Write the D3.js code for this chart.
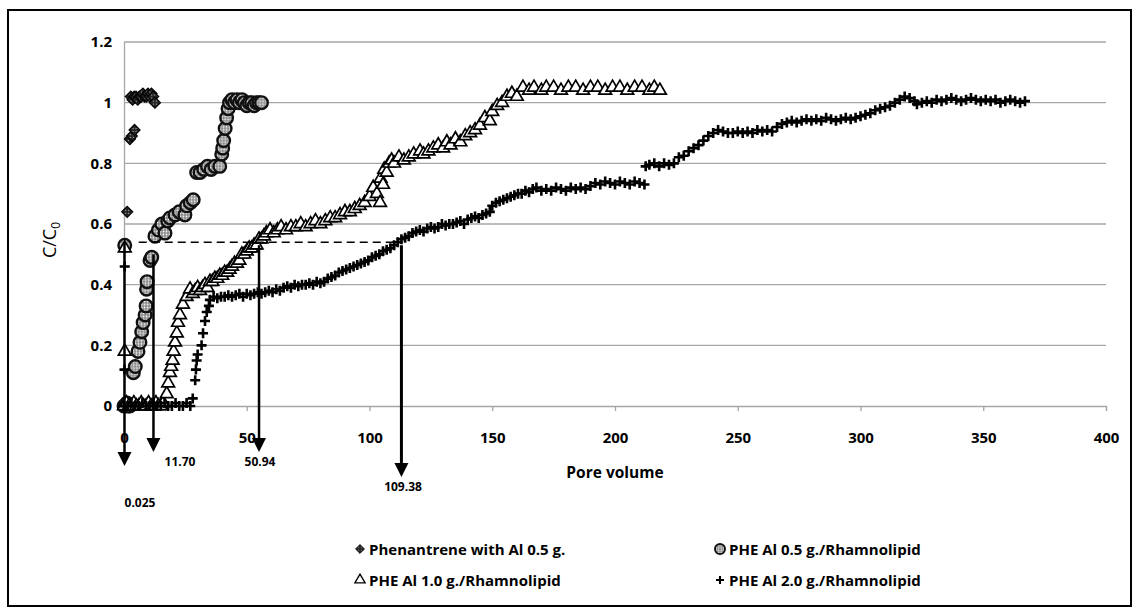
<!DOCTYPE html>
<html>
<head>
<meta charset="utf-8">
<script src="https://cdn.jsdelivr.net/npm/d3@7"></script>
<style>
  body { margin: 0; background: #fff; }
  svg text { font-family: "Open Sans", "Liberation Sans", sans-serif; }
</style>
</head>
<body>
<div id="chart"></div>
<script>
// Breakthrough curves, C/C0 vs pore volume
const xTicks = [0, 50, 100, 150, 200, 250, 300, 350, 400];
const yTicks = [0, 0.2, 0.4, 0.6, 0.8, 1, 1.2];

const phenAl05 = [
  [0.2, 0.0], [0.8, 0.0], [1.3, 0.64], [2.4, 0.88], [3.2, 0.89], [4.3, 0.91],
  [2.8, 1.02], [3.5, 1.01], [4.2, 1.02], [4.9, 1.02], [5.6, 1.01], [6.3, 1.02],
  [7.0, 1.02], [7.7, 1.03], [8.4, 1.02], [9.1, 1.02], [9.8, 1.03], [10.5, 1.02],
  [11.2, 1.03], [11.9, 1.02], [12.6, 1.0]
];

const pheAl05Rham = [
  [0.0, 0.0], [0.6, 0.0], [1.2, 0.01], [1.8, 0.0], [2.4, 0.0], [0.3, 0.53],
  [3.8, 0.11], [4.6, 0.13], [5.7, 0.18], [6.5, 0.21], [7.2, 0.245], [7.8, 0.275],
  [8.6, 0.3], [9.0, 0.33], [9.2, 0.385], [9.4, 0.41], [10.6, 0.48], [11.3, 0.49],
  [12.6, 0.56], [14.0, 0.58], [15.4, 0.6], [16.7, 0.57], [17.8, 0.61], [18.7, 0.62],
  [20.8, 0.63], [22.5, 0.64], [24.8, 0.63], [25.5, 0.66], [27.0, 0.67], [28.2, 0.68],
  [29.6, 0.77], [31.0, 0.77], [32.5, 0.78], [34.0, 0.79], [35.5, 0.78], [37.0, 0.79],
  [39.0, 0.79], [39.8, 0.83], [40.2, 0.85], [40.6, 0.875], [41.2, 0.915], [41.8, 0.95],
  [42.4, 0.98], [43.0, 1.0], [44.0, 1.01], [45.0, 1.0], [46.0, 1.01], [47.0, 1.0],
  [48.0, 1.01], [49.0, 1.0], [50.0, 0.99], [51.0, 1.0], [52.0, 1.0], [53.0, 0.99],
  [54.0, 1.0], [55.0, 1.0], [56.0, 1.0]
];

const pheAl10Rham = [
  [0.0, 0.0], [1.0, 0.01], [2.0, 0.0], [3.0, 0.0], [4.0, 0.01], [5.0, 0.0], [6.0, 0.0],
  [7.0, 0.01], [8.0, 0.0], [9.0, 0.0], [10.0, 0.01], [11.0, 0.0], [12.0, 0.0],
  [13.0, 0.01], [14.0, 0.0], [15.0, 0.0], [16.0, 0.01], [0.3, 0.18], [0.3, 0.52],
  [17.4, 0.04], [18.0, 0.075], [18.7, 0.11], [19.2, 0.13], [19.8, 0.15], [20.2, 0.18],
  [20.8, 0.21], [21.5, 0.24], [22.0, 0.275], [22.8, 0.3], [24.0, 0.335], [25.5, 0.36],
  [26.9, 0.385], [28.0, 0.37], [29.0, 0.38], [30.0, 0.39], [31.0, 0.38], [32.0, 0.39],
  [33.0, 0.4], [34.0, 0.39], [35.0, 0.41], [36.0, 0.41], [37.0, 0.42], [38.0, 0.42],
  [39.0, 0.43], [40.0, 0.43], [41.0, 0.44], [42.0, 0.44], [43.0, 0.45], [44.0, 0.46],
  [45.0, 0.47], [46.0, 0.47], [47.0, 0.48], [48.0, 0.5], [49.0, 0.5], [50.0, 0.51],
  [51.0, 0.52], [52.0, 0.52], [53.0, 0.53], [54.0, 0.53], [55.0, 0.55], [56.0, 0.55],
  [57.0, 0.56], [58.0, 0.57], [59.5, 0.58], [61.0, 0.57], [62.5, 0.58], [64.0, 0.59],
  [66.0, 0.58], [68.0, 0.59], [70.0, 0.59], [72.0, 0.6], [74.0, 0.59], [76.0, 0.6],
  [78.0, 0.61], [80.0, 0.6], [82.0, 0.61], [84.0, 0.62], [86.0, 0.62], [88.0, 0.63],
  [90.0, 0.64], [92.0, 0.64], [94.0, 0.65], [96.0, 0.66], [98.0, 0.67], [100.0, 0.69],
  [101.5, 0.72], [103.0, 0.7], [104.3, 0.67], [104.5, 0.75], [105.5, 0.73], [106.0, 0.78],
  [107.0, 0.77], [108.0, 0.8], [109.0, 0.81], [110.0, 0.8], [112.0, 0.82], [114.0, 0.81],
  [116.0, 0.82], [118.0, 0.83], [120.6, 0.84], [122.0, 0.83], [124.0, 0.84], [126.0, 0.85],
  [128.0, 0.86], [130.0, 0.85], [131.5, 0.87], [133.0, 0.86], [135.0, 0.88], [137.0, 0.87],
  [139.0, 0.89], [141.0, 0.9], [143.0, 0.91], [145.0, 0.925], [147.0, 0.95], [149.0, 0.94],
  [150.0, 0.97], [152.0, 0.99], [154.0, 1.0], [156.0, 1.02], [158.0, 1.03], [160.0, 1.02],
  [162.5, 1.05], [165.0, 1.04], [167.0, 1.05], [170.0, 1.04], [172.0, 1.05], [175.0, 1.05],
  [178.0, 1.04], [181.0, 1.05], [184.0, 1.05], [187.0, 1.04], [190.0, 1.05], [193.0, 1.05],
  [196.0, 1.04], [199.0, 1.05], [202.0, 1.05], [205.0, 1.04], [208.0, 1.05], [211.0, 1.05],
  [214.0, 1.04], [216.0, 1.05], [218.3, 1.04]
];

const pheAl20Rham = [
  [0.0, 0.0], [1.5, 0.0], [3.0, 0.01], [4.5, 0.0], [6.0, 0.0], [7.5, 0.01], [9.0, 0.0],
  [10.5, 0.0], [12.0, 0.01], [13.5, 0.0], [15.0, 0.0], [16.5, 0.01], [18.0, 0.0],
  [19.5, 0.0], [21.0, 0.01], [22.5, 0.0], [24.0, 0.0], [25.5, 0.01], [27.0, 0.0],
  [0.2, 0.12], [0.3, 0.46],
  [28.0, 0.025], [29.0, 0.085], [29.3, 0.12], [29.6, 0.15], [30.0, 0.17], [31.6, 0.2],
  [32.2, 0.24], [33.0, 0.28], [33.7, 0.31], [34.6, 0.33], [35.0, 0.35], [36.5, 0.36],
  [38.0, 0.355], [39.5, 0.36], [41.0, 0.36], [42.5, 0.365], [44.0, 0.36], [45.5, 0.365],
  [47.0, 0.37], [48.5, 0.36], [50.0, 0.37], [51.5, 0.365], [53.0, 0.37], [54.5, 0.375],
  [56.0, 0.37], [57.5, 0.375], [59.0, 0.38], [60.5, 0.375], [62.0, 0.385], [63.5, 0.38],
  [65.0, 0.39], [66.5, 0.395], [68.0, 0.39], [69.5, 0.4], [71.0, 0.395], [72.5, 0.4],
  [74.0, 0.4], [75.5, 0.405], [77.0, 0.4], [78.5, 0.41], [80.0, 0.405], [81.5, 0.41],
  [83.0, 0.42], [84.5, 0.425], [86.0, 0.43], [87.5, 0.44], [89.0, 0.445], [90.5, 0.45],
  [92.0, 0.455], [93.5, 0.46], [95.0, 0.465], [96.5, 0.47], [98.0, 0.475], [99.5, 0.48],
  [101.0, 0.49], [102.5, 0.495], [104.0, 0.5], [105.5, 0.51], [107.0, 0.515], [108.5, 0.52],
  [110.0, 0.53], [111.5, 0.54], [113.0, 0.55], [114.5, 0.555], [116.0, 0.56], [117.5, 0.57],
  [119.0, 0.575], [120.5, 0.58], [122.0, 0.575], [123.5, 0.585], [125.0, 0.59], [126.5, 0.585],
  [128.0, 0.59], [129.5, 0.6], [131.0, 0.595], [132.5, 0.6], [134.0, 0.6], [135.5, 0.605],
  [137.0, 0.61], [138.5, 0.6], [140.0, 0.615], [141.5, 0.62], [143.0, 0.625], [144.5, 0.62],
  [146.0, 0.63], [147.5, 0.635], [149.0, 0.64], [150.0, 0.66], [151.5, 0.67], [153.0, 0.675],
  [154.5, 0.68], [156.0, 0.685], [157.5, 0.69], [159.0, 0.695], [160.5, 0.7], [162.0, 0.7],
  [163.5, 0.71], [165.0, 0.705], [166.5, 0.715], [168.0, 0.72], [170.0, 0.71], [172.0, 0.715],
  [174.0, 0.71], [176.0, 0.72], [178.0, 0.715], [180.0, 0.71], [182.0, 0.72], [184.0, 0.715],
  [186.0, 0.72], [188.0, 0.715], [190.0, 0.725], [192.0, 0.735], [194.0, 0.73], [196.0, 0.74],
  [198.0, 0.735], [200.0, 0.73], [202.0, 0.74], [204.0, 0.735], [206.0, 0.73], [208.0, 0.74],
  [210.0, 0.735], [212.0, 0.73], [212.5, 0.79], [214.0, 0.795], [216.0, 0.8], [218.0, 0.79],
  [220.0, 0.8], [222.0, 0.795], [224.0, 0.8], [226.0, 0.82], [228.0, 0.825], [230.0, 0.84],
  [232.0, 0.85], [234.0, 0.86], [236.0, 0.875], [238.0, 0.89], [240.0, 0.9], [242.0, 0.91],
  [244.0, 0.905], [246.0, 0.9], [248.0, 0.9], [250.0, 0.905], [252.0, 0.9], [254.0, 0.905],
  [256.0, 0.9], [258.0, 0.91], [260.0, 0.905], [262.0, 0.91], [264.0, 0.905], [266.0, 0.92],
  [268.0, 0.93], [270.0, 0.935], [272.0, 0.94], [274.0, 0.935], [276.0, 0.94], [278.0, 0.945],
  [280.0, 0.94], [282.0, 0.945], [284.0, 0.94], [286.0, 0.95], [288.0, 0.945], [290.0, 0.94],
  [292.0, 0.945], [294.0, 0.95], [296.0, 0.945], [298.0, 0.95], [300.0, 0.955], [302.0, 0.96],
  [304.0, 0.965], [306.0, 0.975], [308.0, 0.98], [310.0, 0.985], [312.0, 0.99], [314.0, 1.0],
  [316.0, 1.01], [318.0, 1.02], [320.0, 1.015], [322.0, 1.005], [323.0, 0.995], [325.0, 1.0],
  [327.0, 1.005], [329.0, 1.0], [331.0, 1.01], [333.0, 1.005], [335.0, 1.01], [337.0, 1.015],
  [339.0, 1.01], [341.0, 1.005], [343.0, 1.01], [345.0, 1.015], [347.0, 1.01], [349.0, 1.005],
  [351.0, 1.01], [353.0, 1.005], [355.0, 1.01], [357.0, 1.0], [359.0, 1.005], [361.0, 1.01],
  [363.0, 1.005], [365.0, 1.0], [367.0, 1.005]
];

const seriesNames = [
  'Phenantrene with Al 0.5 g.',
  'PHE Al 0.5 g./Rhamnolipid',
  'PHE Al 1.0 g./Rhamnolipid',
  'PHE Al 2.0 g./Rhamnolipid'
];

// hand drawn arrows: x where drawn, level they start from, label
const arrowX = [0.2, 12.0, 55.0, 113.0];
const arrowTop = [0.54, 0.5, 0.53, 0.53];
const arrowLabels = ['0.025', '11.70', '50.94', '109.38'];
const dashLevel = 0.54;
const dashFrom = 6.0;

const width = 1139, height = 613;
const svg = d3.select('#chart').append('svg')
  .attr('width', width).attr('height', height);

const defs = svg.append('defs');
const dp = defs.append('pattern').attr('id', 'cdots')
  .attr('width', 3).attr('height', 3).attr('patternUnits', 'userSpaceOnUse');
dp.append('rect').attr('width', 3).attr('height', 3).attr('fill', '#888');
dp.append('circle').attr('cx', 1.5).attr('cy', 1.5).attr('r', 0.9).attr('fill', '#fff');
const dd = defs.append('pattern').attr('id', 'ddots')
  .attr('width', 3).attr('height', 3).attr('patternUnits', 'userSpaceOnUse');
dd.append('rect').attr('width', 3).attr('height', 3).attr('fill', '#222');
dd.append('circle').attr('cx', 1.5).attr('cy', 1.5).attr('r', 0.7).attr('fill', '#aaa');

// outer frame
svg.append('rect')
  .attr('x', 8).attr('y', 10).attr('width', 1123).attr('height', 596)
  .attr('fill', 'none').attr('stroke', '#000').attr('stroke-width', 2);

const x = d3.scaleLinear().domain([0, 400]).range([124, 1106]);
const y = d3.scaleLinear().domain([0, 1.2]).range([406, 42]);

// gridlines
svg.append('g').selectAll('line')
  .data(yTicks.filter(d => d > 0))
  .enter().append('line')
  .attr('x1', x(0)).attr('x2', x(400))
  .attr('y1', d => y(d)).attr('y2', d => y(d))
  .attr('stroke', '#a6a6a6').attr('stroke-width', 1.3);

// axes
const xAxis = svg.append('g').attr('transform', `translate(0,${y(0)})`)
  .call(d3.axisBottom(x).tickValues(xTicks).tickSize(5).tickFormat(d3.format('d')));
xAxis.select('.domain').attr('stroke', '#a6a6a6').attr('stroke-width', 1.3);
xAxis.selectAll('.tick line').attr('stroke', '#a6a6a6').attr('stroke-width', 1.3);
xAxis.selectAll('.tick text')
  .attr('dy', 0).attr('y', 37)
  .attr('font-size', 15).attr('font-weight', 'bold').attr('fill', '#000')
  .attr('font-family', '"Open Sans", sans-serif');

const yAxis = svg.append('g').attr('transform', `translate(${x(0)},0)`)
  .call(d3.axisLeft(y).tickValues(yTicks).tickSize(0).tickPadding(12)
    .tickFormat(d => d === 0 || d === 1 ? String(d) : d.toFixed(1)));
yAxis.select('.domain').attr('stroke', '#a6a6a6').attr('stroke-width', 1.3);
yAxis.selectAll('.tick text')
  .attr('font-size', 15).attr('font-weight', 'bold').attr('fill', '#000')
  .attr('font-family', '"Open Sans", sans-serif');

// axis titles
svg.append('text')
  .attr('x', 615).attr('y', 478)
  .attr('text-anchor', 'middle')
  .attr('font-size', 15.5).attr('font-weight', 'bold')
  .text('Pore volume');

const yTitle = svg.append('text')
  .attr('transform', 'translate(56,240) rotate(-90)')
  .attr('text-anchor', 'middle')
  .attr('font-size', 18);
yTitle.append('tspan').text('C/C');
yTitle.append('tspan').attr('font-size', 12).attr('dy', 4).text('0');

// marker drawing
const diamondPath = 'M0,-5.5L5.5,0L0,5.5L-5.5,0Z';
const trianglePath = d3.symbol().type(d3.symbolTriangle).size(70)();
const plusPath = 'M-5,0H5M0,-5V5';

function drawMarker(g, kind) {
  if (kind === 0) {
    g.append('path').attr('d', diamondPath)
      .attr('fill', 'url(#ddots)').attr('stroke', '#000').attr('stroke-width', 1.2);
  } else if (kind === 1) {
    g.append('circle').attr('r', 6.3)
      .attr('fill', 'url(#cdots)').attr('stroke', '#111').attr('stroke-width', 2.4);
  } else if (kind === 2) {
    g.append('path').attr('d', trianglePath)
      .attr('fill', '#fff').attr('stroke', '#000').attr('stroke-width', 1.7);
  } else {
    g.append('path').attr('d', plusPath)
      .attr('fill', 'none').attr('stroke', '#000').attr('stroke-width', 2.6);
  }
}

const allSeries = [phenAl05, pheAl05Rham, pheAl10Rham, pheAl20Rham];
allSeries.forEach((data, k) => {
  svg.append('g').selectAll('g')
    .data(data)
    .enter().append('g')
    .attr('transform', d => `translate(${x(d[0])},${y(d[1])})`)
    .each(function () { drawMarker(d3.select(this), k); });
});

// dashed guide
svg.append('line')
  .attr('x1', x(dashFrom)).attr('x2', x(arrowX[3]))
  .attr('y1', y(dashLevel)).attr('y2', y(dashLevel))
  .attr('stroke', '#000').attr('stroke-width', 1.6)
  .attr('stroke-dasharray', '8,5');

// arrows
const arrowTips = [466, 452, 452, 477];
const labelPos = [[140, 507], [180, 466], [260, 466], [403, 491]];
arrowX.forEach((v, i) => {
  const ax = x(v);
  const tip = arrowTips[i];
  svg.append('line')
    .attr('x1', ax).attr('x2', ax)
    .attr('y1', y(arrowTop[i])).attr('y2', tip - 12)
    .attr('stroke', '#000').attr('stroke-width', i === 3 ? 3 : 2.5);
  svg.append('path')
    .attr('d', `M${ax - 7},${tip - 14}L${ax + 7},${tip - 14}L${ax},${tip}Z`)
    .attr('fill', '#000');
  svg.append('text')
    .attr('x', labelPos[i][0]).attr('y', labelPos[i][1])
    .attr('text-anchor', 'middle')
    .attr('font-size', 12).attr('font-weight', 'bold')
    .text(arrowLabels[i]);
});

// legend
const legendPos = [[360, 549], [720, 549], [360, 580], [720, 580]];
seriesNames.forEach((name, k) => {
  const lg = svg.append('g').attr('transform', `translate(${legendPos[k][0]},${legendPos[k][1]})`);
  const m = lg.append('g').attr('transform', 'scale(0.8)');
  drawMarker(m, k);
  lg.append('text')
    .attr('x', 9).attr('y', 5.5)
    .attr('font-size', 15).attr('font-weight', 'bold')
    .text(name);
});
</script>
</body>
</html>
